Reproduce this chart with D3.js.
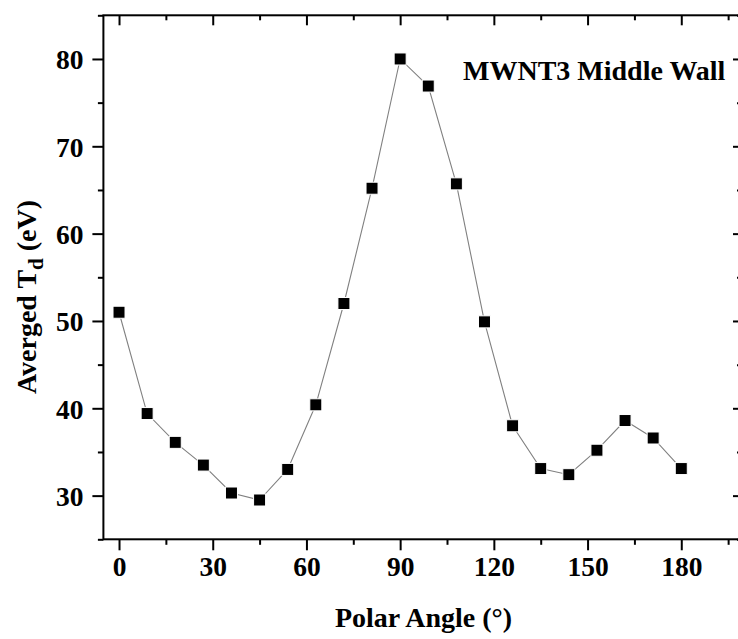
<!DOCTYPE html>
<html>
<head>
<meta charset="utf-8">
<script src="https://cdn.jsdelivr.net/npm/d3@7"></script>
<style>
  html, body { margin: 0; padding: 0; background: #fff; }
  svg { display: block; }
  text { font-family: "Liberation Serif", "Times New Roman", serif; font-weight: bold; fill: #000; }
</style>
</head>
<body>
<script>
// ---- data ----
const angles = [0, 9, 18, 27, 36, 45, 54, 63, 72, 81, 90, 99, 108, 117, 126, 135, 144, 153, 162, 171, 180];
const tdValues = [51.0, 39.4, 36.1, 33.5, 30.3, 29.5, 33.0, 40.4, 52.0, 65.2, 80.0, 76.9, 65.7, 49.9, 38.0, 33.1, 32.4, 35.2, 38.6, 36.6, 33.1];
const xTickValues = [0, 30, 60, 90, 120, 150, 180];
const yTickValues = [30, 40, 50, 60, 70, 80];
const xLabel = "Polar Angle (°)";
const yLabelMain = "Averged T";
const yLabelSub = "d";
const yLabelEnd = " (eV)";
const annotation = "MWNT3 Middle Wall";

const W = 738, H = 639;
const pLeft = 103.4, pRight = 740, pTop = 15.3, pBottom = 539.3;

const svg = d3.select("body").append("svg").attr("width", W).attr("height", H);

const x = d3.scaleLinear().domain([-5, 198.8]).range([pLeft, pRight]);
const y = d3.scaleLinear().domain([25, 85]).range([pBottom, pTop]);

const xMinor = d3.range(0, 199, 15).filter(v => !xTickValues.includes(v));
const yMinor = d3.range(25, 86, 5).filter(v => !yTickValues.includes(v));
const xMajorAll = d3.range(0, 199, 30);

function styleAxis(g) {
  g.select(".domain").remove();
  g.selectAll(".tick line").attr("stroke", "#000").attr("stroke-width", 2);
}

// bottom major
svg.append("g").attr("transform", `translate(0,${pBottom})`)
  .call(d3.axisBottom(x).tickValues(xTickValues).tickSize(11).tickPadding(6).tickFormat(d3.format("d")))
  .call(styleAxis)
  .call(g => g.selectAll("text").attr("font-size", 27.5).attr("dy", "0.7em"));
svg.append("g").attr("transform", `translate(0,${pBottom})`)
  .call(d3.axisBottom(x).tickValues(xMinor).tickSize(5.5).tickFormat(""))
  .call(styleAxis);
// top (inward)
svg.append("g").attr("transform", `translate(0,${pTop})`)
  .call(d3.axisBottom(x).tickValues(xMajorAll).tickSize(10).tickFormat(""))
  .call(styleAxis);
svg.append("g").attr("transform", `translate(0,${pTop})`)
  .call(d3.axisBottom(x).tickValues(xMinor).tickSize(5).tickFormat(""))
  .call(styleAxis);

// left
svg.append("g").attr("transform", `translate(${pLeft},0)`)
  .call(d3.axisLeft(y).tickValues(yTickValues).tickSize(11).tickPadding(9).tickFormat(d3.format("d")))
  .call(styleAxis)
  .call(g => g.selectAll("text").attr("font-size", 27.5).attr("dy", "0.36em"));
svg.append("g").attr("transform", `translate(${pLeft},0)`)
  .call(d3.axisLeft(y).tickValues(yMinor).tickSize(5.5).tickFormat(""))
  .call(styleAxis);
// right (inward)
svg.append("g").attr("transform", `translate(${pRight},0)`)
  .call(d3.axisLeft(y).tickValues(yTickValues).tickSize(7).tickFormat(""))
  .call(styleAxis);
svg.append("g").attr("transform", `translate(${pRight},0)`)
  .call(d3.axisLeft(y).tickValues(yMinor).tickSize(3).tickFormat(""))
  .call(styleAxis);

// frame
svg.append("rect").attr("x", pLeft).attr("y", pTop)
  .attr("width", pRight - pLeft).attr("height", pBottom - pTop)
  .attr("fill", "none").attr("stroke", "#000").attr("stroke-width", 2);

// data
const pts = angles.map((a, i) => [a, tdValues[i]]);
svg.append("path").datum(pts)
  .attr("fill", "none").attr("stroke", "#808080").attr("stroke-width", 1.1)
  .attr("d", d3.line().x(d => x(d[0])).y(d => y(d[1])));

const ms = 12;
svg.append("g").selectAll("rect").data(pts).join("rect")
  .attr("x", d => x(d[0]) - ms / 2).attr("y", d => y(d[1]) - ms / 2)
  .attr("width", ms).attr("height", ms)
  .attr("fill", "#000").attr("stroke", "#fff").attr("stroke-width", 1);

// annotation
svg.append("text").attr("x", 463).attr("y", 80).attr("font-size", 28).text(annotation);

// x label
svg.append("text").attr("x", (335 + 512) / 2).attr("y", 627).attr("text-anchor", "middle")
  .attr("font-size", 28).text(xLabel);

// y label
const yl = svg.append("text").attr("transform", "translate(36,297) rotate(-90)")
  .attr("text-anchor", "middle").attr("font-size", 28);
yl.append("tspan").text(yLabelMain);
yl.append("tspan").attr("font-size", 21).attr("dy", 7).text(yLabelSub);
yl.append("tspan").attr("dy", -7).text(yLabelEnd);
</script>
</body>
</html>
